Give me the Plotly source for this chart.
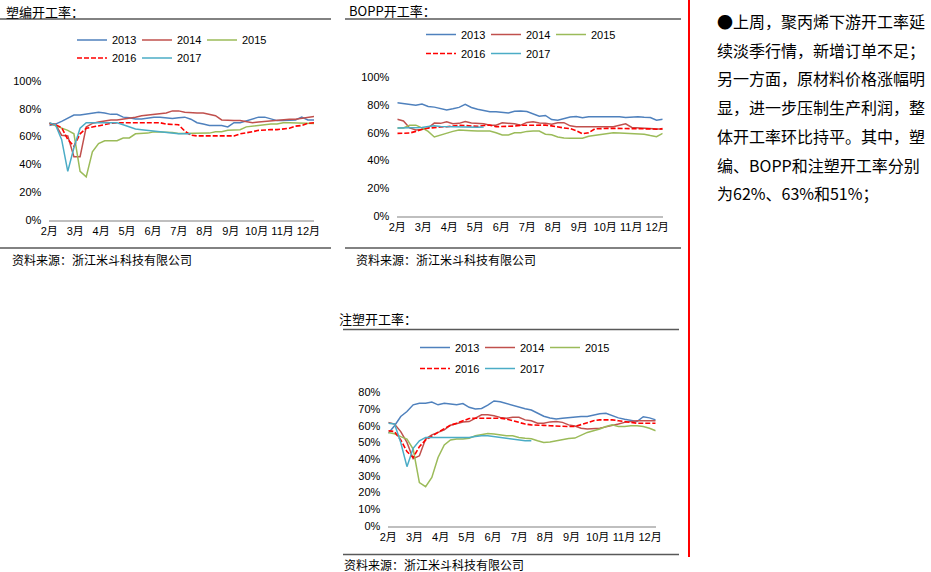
import plotly.graph_objects as go

W, H = 931, 572

MONTHS = ["2月", "3月", "4月", "5月", "6月", "7月", "8月", "9月", "10月", "11月", "12月"]
YEARS = ["2013", "2014", "2015", "2016", "2017"]
YTICKS_100 = [0, 20, 40, 60, 80, 100]
YTICKS_80 = [0, 10, 20, 30, 40, 50, 60, 70, 80]

# 塑编开工率 (%), weekly
WOVEN_2013 = [68, 69, 71, 73.5, 75.5, 75.5, 76, 77, 77.5, 77, 76, 76, 74, 73.5, 72.7, 72.7, 73.5, 74, 74, 73.5, 73, 73.5,
              74, 72.5, 70, 69, 68, 68, 68, 67, 70, 70, 71.5, 73, 74, 74, 73, 71.5, 71.5, 71.5, 72, 74, 72, 72]
WOVEN_2014 = [69.5, 69, 61, 60.5, 45.5, 45.5, 67, 69.5, 70.5, 71.5, 72, 72, 72.5, 73, 74, 75, 75.5, 75.5, 76, 77, 78.5,
              78.5, 77.5, 77, 77, 77, 76, 75, 72, 71.5, 71.5, 71.5, 71, 70, 70.5, 71, 71.5, 72, 72.5, 72.5, 72.5, 73, 73.5, 74.5]
WOVEN_2015 = [69.5, 68, 66, 64.5, 62, 35, 31, 49, 55, 57, 57, 57, 59, 59, 62, 62, 62.5, 63.5, 63.5, 63.5, 63, 62.3, 62.3,
              62.3, 62.3, 62.3, 62.5, 63.5, 63.5, 64.5, 65, 65, 67, 67.5, 68, 69, 69, 69, 70, 70, 70, 70, 69.5, 69.5]
WOVEN_2016 = [69.5, 68.5, 66.5, 58, 53, 62, 66, 67, 68, 69, 69.5, 70, 70, 70, 70, 70, 70, 70, 70, 69, 69, 68.5, 64, 61,
              60.5, 60.5, 60, 60.5, 60.5, 60, 60.5, 62, 62.5, 63.5, 64.5, 65, 65, 65, 65.5, 66, 67.5, 68, 69.5, 70]
WOVEN_2017 = [70, 68.5, 58, 35, 52, 66, 70, 70, 70, 70, 70, 70, 68.5, 67, 65.5, 65, 64.5, 63.5, 63, 62.5, 62, 62, 62, 62]

# BOPP开工率 (%), weekly
BOPP_2013 = [81.7, 81, 80, 79.8, 80.8, 79, 78.5, 77.6, 76.5, 77.3, 78.3, 80.5, 78.2, 77, 76, 75.2, 75.2, 75, 74.3, 75.5,
             75.7, 75.3, 73.5, 72, 72.5, 69.5, 69, 70.4, 71.3, 71.8, 70.8, 71.6, 71.6, 71.6, 71.2, 71.5, 71.5, 71, 71.4,
             71.6, 71.2, 71, 69, 69.7]
BOPP_2014 = [69.7, 68.5, 63.5, 62, 62.3, 63.5, 67, 66.8, 68, 66.5, 66.8, 68.2, 67, 66.8, 66.5, 65.5, 65.5, 67.2, 67, 66.5,
             65.5, 67.5, 68, 67, 66.8, 66.2, 67.3, 67.3, 65, 64.4, 64.4, 64.4, 64.4, 64.2, 64, 64.4, 65.5, 66.5, 63.8, 63.5,
             63.2, 63, 62.5, 62.5]
BOPP_2015 = [63.5, 63.5, 65.5, 65.5, 63.5, 61, 57, 58.5, 60, 61, 62, 62, 61.5, 61.2, 61.2, 61.2, 60, 58.4, 58.4, 60, 60,
             61, 61.2, 61.2, 59, 58.5, 57, 56.2, 56, 56, 56, 57.5, 58.2, 58.4, 59.5, 60, 59.8, 59.6, 59.6, 59.6, 59, 58,
             57.2, 59.6]
BOPP_2016 = [59.6, 59.6, 59.8, 61, 62.5, 63.3, 64, 64.2, 64.4, 65, 65.4, 65.2, 64.7, 64.6, 65.3, 65.5, 64.4, 64.4, 64.4,
             64.8, 65.4, 65.5, 65.5, 65.5, 65.5, 65, 64, 63.5, 63, 61.5, 59.3, 60, 62.8, 63.2, 63.2, 63.2, 63.2, 63.2, 63.2,
             63.2, 63, 62.8, 62.5, 63]
BOPP_2017 = [63.5, 63.5, 63.5, 63.5, 63.8, 64.5, 65, 64.5, 64.4, 64.4, 64.4, 64.2, 63.7, 64, 64.2]

# 注塑开工率 (%), weekly
INJ_2013 = [55.5, 60, 65.5, 68.5, 72.5, 73.5, 73.5, 74.2, 72.5, 73.4, 73, 72.5, 73.3, 71, 70, 70.3, 72.3, 74.8, 74.3,
            73.2, 72.3, 71.3, 70.2, 69.4, 67.5, 65.7, 64.6, 64, 64.4, 64.8, 65.2, 65.5, 65.5, 66.5, 67.2, 67.5, 66, 64.7,
            63.9, 63.4, 62.5, 65.4, 64.7, 63.5]
INJ_2014 = [62, 61, 56.5, 50, 40.3, 42, 52, 54.5, 56, 57.5, 60.3, 61.3, 62.2, 62.5, 64.5, 66.5, 66.5, 66, 65, 64.5, 65,
            65, 63.5, 63, 61.5, 61.5, 62.3, 62.5, 62, 60.5, 59.8, 58.5, 58, 58.2, 58.5, 59.3, 60, 61, 62, 62.6, 63, 63,
            63, 63]
INJ_2015 = [56, 55.2, 53.5, 52, 46, 26, 23.5, 29, 41, 48.5, 51.5, 52, 52, 52.5, 54, 54.5, 55.3, 55, 54.5, 54, 54, 53,
            52.5, 52.2, 51, 50, 50.2, 51, 51.5, 52.3, 52.6, 54.5, 56, 57, 58, 59.5, 60.5, 59.5, 59.5, 60, 60, 59.5, 58.5, 57]
INJ_2016 = [57, 56.5, 51.5, 44.5, 41, 47.5, 51.5, 54, 56, 58.3, 60.3, 61.5, 63, 64.3, 64.5, 64.5, 64.5, 64.5, 64.5, 64,
            63, 62, 61, 60.5, 60.5, 60.2, 60, 59.7, 59.5, 59.5, 59.5, 60.5, 61.8, 63, 63.5, 63.5, 63.5, 63, 62.5, 62, 61.5,
            61.5, 61.5, 61.5]
INJ_2017 = [61.5, 61, 50, 35.5, 46.5, 51, 53, 53, 53, 53, 53, 53, 53, 53, 53.5, 54, 54, 53.5, 53, 52.5, 52, 51.5, 51, 51]

TITLES = ["塑编开工率：", "BOPP开工率：", "注塑开工率："]
SOURCE = "资料来源：浙江米斗科技有限公司"
NOTE_LINES = [
    "●上周，聚丙烯下游开工率延",
    "续淡季行情，新增订单不足；",
    "另一方面，原材料价格涨幅明",
    "显，进一步压制生产利润，整",
    "体开工率环比持平。其中，塑",
    "编、BOPP和注塑开工率分别",
    "为62%、63%和51%；",
]

COLORS = ["#4F81BD", "#C0504D", "#9BBB59", "#FF0000", "#4BACC6"]
DASHES = ["solid", "solid", "solid", "5px,2px", "solid"]

FONT = "Liberation Sans, Arial, Noto Sans CJK SC, sans-serif"
CJK = "Noto Sans CJK SC, Liberation Sans, sans-serif"


def px(x):
    return x / W


def py(y):
    return 1 - y / H


charts = [
    dict(series=[WOVEN_2013, WOVEN_2014, WOVEN_2015, WOVEN_2016, WOVEN_2017], ax="", yt=YTICKS_100,
         plot=(49.3, 314, 81, 220), leg=(72, 40, 58), title=(4, 11), src=(10, 259), rule=(0, 331, 19, 248)),
    dict(series=[BOPP_2013, BOPP_2014, BOPP_2015, BOPP_2016, BOPP_2017], ax="2", yt=YTICKS_100,
         plot=(397.3, 662.7, 77.3, 216), leg=(421, 34.5, 53.5), title=(347, 10), src=(354, 259), rule=(345, 681, 19, 248)),
    dict(series=[INJ_2013, INJ_2014, INJ_2015, INJ_2016, INJ_2017], ax="3", yt=YTICKS_80,
         plot=(388.3, 655.7, 392.3, 526), leg=(415, 347.5, 368.5), title=(337, 318), src=(342, 564), rule=(343, 679, 329.5, 554.5)),
]

fig = go.Figure()
layout = dict(
    width=W, height=H, margin=dict(l=0, r=0, t=0, b=0, pad=0, autoexpand=False),
    paper_bgcolor="white", plot_bgcolor="white",
    font=dict(family=FONT, size=11, color="#000000"),
    annotations=[], shapes=[],
)

leg_idx = 1
for ci, c in enumerate(charts):
    ax = c["ax"]
    xname, yname = "x" + ax, "y" + ax
    l1 = "legend" if leg_idx == 1 else "legend%d" % leg_idx
    l2 = "legend%d" % (leg_idx + 1)
    leg_idx += 2
    for si, vals in enumerate(c["series"]):
        fig.add_trace(go.Scatter(
            x=list(range(len(vals))), y=vals, mode="lines", name=YEARS[si],
            line=dict(color=COLORS[si], width=1.5 if si != 3 else 1.6, dash=DASHES[si]),
            xaxis=xname, yaxis=yname, legend=l1 if si < 3 else l2, hoverinfo="skip",
        ))
    x0, x1, y0, y1 = c["plot"]
    n = max(len(v) for v in c["series"]) - 1
    layout["xaxis" + ax] = dict(
        domain=[px(x0), px(x1)], range=[0, n], anchor=yname, automargin=False,
        tickmode="array", tickvals=[i * 4.21 for i in range(len(MONTHS))], ticktext=MONTHS,
        showline=True, linecolor="#BFBFBF", linewidth=2, showgrid=False, zeroline=False,
        ticks="", tickfont=dict(family=FONT, size=11, color="#000000"), fixedrange=True,
    )
    yt = c["yt"]
    layout["yaxis" + ax] = dict(
        domain=[py(y1), py(y0)], range=[0, yt[-1]], anchor=xname, automargin=False,
        tickmode="array", tickvals=yt, ticktext=["%d%%" % v for v in yt],
        showline=False, showgrid=False, zeroline=False, ticks="",
        tickfont=dict(family=FONT, size=11, color="#000000"), ticklabelstandoff=7, fixedrange=True,
    )
    lx, ly1, ly2 = c["leg"]
    for name, ly in ((l1, ly1), (l2, ly2)):
        layout[name] = dict(
            orientation="h", x=px(lx), y=py(ly), xanchor="left", yanchor="middle",
            entrywidth=20, entrywidthmode="pixels", bgcolor="rgba(0,0,0,0)",
            font=dict(family=FONT, size=11, color="#000000"), tracegroupgap=0,
            itemclick=False, itemdoubleclick=False,
        )
    tx, ty = c["title"]
    layout["annotations"].append(dict(
        text=TITLES[ci], x=px(tx), y=py(ty), xref="paper", yref="paper", xanchor="left", yanchor="middle",
        showarrow=False, font=dict(family=CJK, size=13, color="#000000")))
    sx, sy = c["src"]
    layout["annotations"].append(dict(
        text=SOURCE, x=px(sx), y=py(sy), xref="paper", yref="paper", xanchor="left", yanchor="middle",
        showarrow=False, font=dict(family=CJK, size=12, color="#000000")))
    rx0, rx1, ry0, ry1 = c["rule"]
    for ry in (ry0, ry1):
        layout["shapes"].append(dict(
            type="line", xref="paper", yref="paper", x0=px(rx0), x1=px(rx1), y0=py(ry), y1=py(ry),
            line=dict(color="#595959", width=1.5)))

# red divider
layout["shapes"].append(dict(type="line", xref="paper", yref="paper", x0=px(689), x1=px(689), y0=py(0), y1=py(557),
                             line=dict(color="#FF0000", width=2)))

for i, t in enumerate(NOTE_LINES):
    layout["annotations"].append(dict(
        text=t, x=px(715), y=py(21 + i * 28.7), xref="paper", yref="paper", xanchor="left", yanchor="middle",
        showarrow=False, font=dict(family=CJK, size=16, color="#000000")))

fig.update_layout(**layout)
fig.write_html("out.html", config={"displayModeBar": False, "staticPlot": True},
               post_script="document.body.style.margin='0px';document.body.style.overflow='hidden';")
